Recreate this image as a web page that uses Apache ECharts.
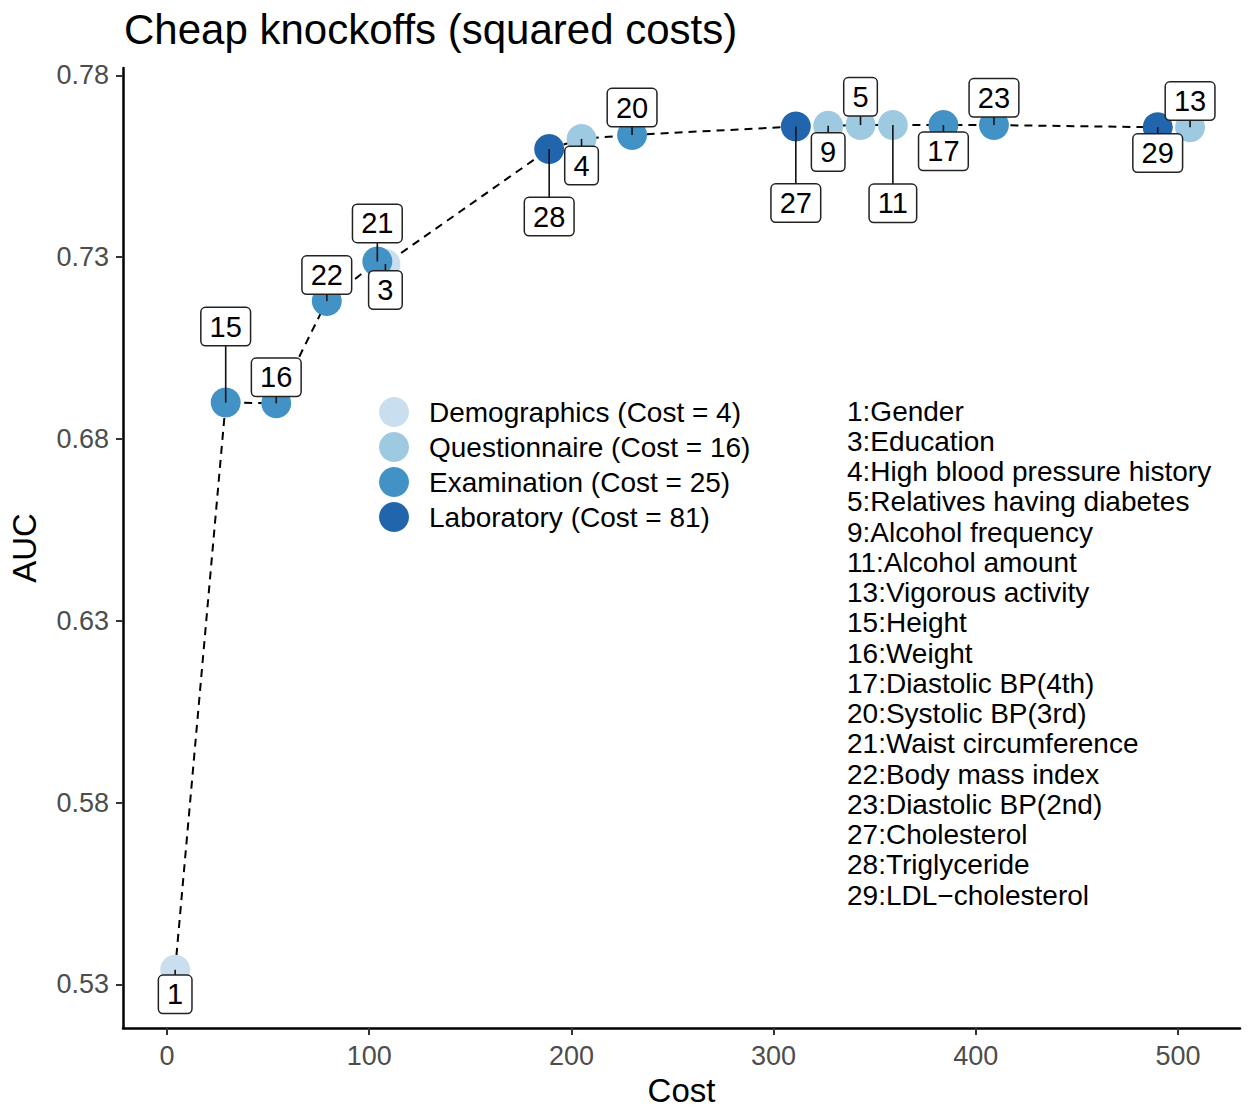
<!DOCTYPE html>
<html>
<head>
<meta charset="utf-8">
<title>Cheap knockoffs (squared costs)</title>
<script src="https://cdn.jsdelivr.net/npm/echarts@6/dist/echarts.min.js"></script>
<style>
  html, body { margin: 0; padding: 0; background: #fff; }
  #chart { width: 1248px; height: 1113px; }
</style>
</head>
<body>
<div id="chart"></div>
<script>
// Features in the order they were added to the model
const featureIds = [1, 15, 16, 22, 21, 3, 28, 4, 20, 27, 9, 5, 11, 17, 23, 29, 13];
const featureNames = ['Gender', 'Height', 'Weight', 'Body mass index', 'Waist circumference',
  'Education', 'Triglyceride', 'High blood pressure history', 'Systolic BP(3rd)', 'Cholesterol',
  'Alcohol frequency', 'Relatives having diabetes', 'Alcohol amount', 'Diastolic BP(4th)',
  'Diastolic BP(2nd)', 'LDL\u2212cholesterol', 'Vigorous activity'];
const featureGroups = ['Demographics', 'Examination', 'Examination', 'Examination', 'Examination',
  'Demographics', 'Laboratory', 'Questionnaire', 'Examination', 'Laboratory',
  'Questionnaire', 'Questionnaire', 'Questionnaire', 'Examination',
  'Examination', 'Laboratory', 'Questionnaire'];
// Cumulative cost after each feature is added
const cumulativeCost = [4, 29, 54, 79, 104, 108, 189, 205, 230, 311, 327, 343, 359, 384, 409, 490, 506];
// AUC after each feature is added
const aucValues = [0.534, 0.690, 0.6898, 0.7179, 0.7288, 0.7281, 0.7597, 0.7625, 0.7636, 0.7659,
  0.7661, 0.7663, 0.7663, 0.7663, 0.7663, 0.7657, 0.7657];

// Feature groups and their per-feature costs
const groupNames = ['Demographics', 'Questionnaire', 'Examination', 'Laboratory'];
const groupCosts = [4, 16, 25, 81];
const groupColors = ['#C9DEEF', '#9ECAE1', '#4292C6', '#2166AC'];

// Axis ticks
const xTicks = [0, 100, 200, 300, 400, 500];
const yTicks = [0.53, 0.58, 0.63, 0.68, 0.73, 0.78];

// Vertical offset (px) of each feature's label box from its point
const labelOffsetY = {1: 24.5, 15: -76, 16: -26, 22: -26, 21: -38, 3: 26, 28: 67.5, 4: 26.7,
  20: -27.3, 27: 76.5, 9: 26.3, 5: -28.3, 11: 78.2, 17: 26.2, 23: -27.3, 29: 25.8, 13: -26.2};

const FONT = '"Liberation Sans", Arial, Helvetica, sans-serif';

const chart = echarts.init(document.getElementById('chart'), null, { renderer: 'svg' });

const pathData = cumulativeCost.map((c, i) => [c, aucValues[i]]);

const groupSeries = groupNames.map((g, gi) => ({
  name: g + ' (Cost = ' + groupCosts[gi] + ')',
  type: 'scatter',
  symbol: 'circle',
  symbolSize: 30,
  itemStyle: { color: groupColors[gi], opacity: 1 },
  z: 3,
  data: cumulativeCost
    .map((c, i) => featureGroups[i] === g ? [c, aucValues[i], featureIds[i]] : null)
    .filter(d => d !== null)
}));

const legendText = featureIds
  .map((id, i) => ({ id, name: featureNames[i] }))
  .sort((a, b) => a.id - b.id)
  .map(d => d.id + ':' + d.name)
  .join('\n');

const option = {
  animation: false,
  backgroundColor: '#fff',
  title: {
    text: 'Cheap knockoffs (squared costs)',
    left: 119,
    top: 3,
    textStyle: { fontFamily: FONT, fontSize: 42, fontWeight: 'normal', color: '#000' }
  },
  grid: { left: 123, right: 8, top: 68, bottom: 85, containLabel: false },
  legend: {
    orient: 'vertical',
    left: 374,
    top: 392,
    itemWidth: 30,
    itemHeight: 30,
    itemGap: 5,
    icon: 'circle',
    data: groupSeries.map(s => s.name),
    textStyle: { fontFamily: FONT, fontSize: 28, color: '#000', padding: [0, 0, 0, 15] }
  },
  xAxis: {
    type: 'value',
    min: -21.8,
    max: 530.7,
    name: 'Cost',
    nameLocation: 'middle',
    nameGap: 46,
    nameTextStyle: { fontFamily: FONT, fontSize: 33, color: '#000' },
    axisLine: { show: true, onZero: false, lineStyle: { color: '#000', width: 2.5 } },
    axisTick: { show: true, length: 7, customValues: xTicks, lineStyle: { color: '#333', width: 2 } },
    axisLabel: { customValues: xTicks, fontFamily: FONT, fontSize: 27, color: '#4D4D4D', margin: 14 },
    splitLine: { show: false }
  },
  yAxis: {
    type: 'value',
    min: 0.518,
    max: 0.782,
    name: 'AUC',
    nameLocation: 'middle',
    nameRotate: 90,
    nameGap: 82,
    nameTextStyle: { fontFamily: FONT, fontSize: 33, color: '#000' },
    axisLine: { show: true, onZero: false, lineStyle: { color: '#000', width: 2.5 } },
    axisTick: { show: true, length: 7, customValues: yTicks, lineStyle: { color: '#333', width: 2 } },
    axisLabel: {
      customValues: yTicks, fontFamily: FONT, fontSize: 27, color: '#4D4D4D', margin: 14,
      formatter: v => v.toFixed(2)
    },
    splitLine: { show: false }
  },
  graphic: [{
    type: 'text',
    left: 847,
    top: 396,
    z: 20,
    style: {
      text: legendText,
      font: '28px ' + FONT,
      lineHeight: 30.25,
      fill: '#000'
    }
  }],
  series: [
    {
      type: 'line',
      data: pathData,
      symbol: 'none',
      z: 2,
      lineStyle: { color: '#000', width: 2, type: [8, 6] },
      silent: true
    },
    ...groupSeries,
    {
      type: 'custom',
      z: 10,
      encode: { x: 0, y: 1 },
      data: cumulativeCost.map((c, i) => [c, aucValues[i], featureIds[i]]),
      renderItem: (params, api) => {
        const p = api.coord([api.value(0), api.value(1)]);
        const id = api.value(2);
        const cy = p[1] + labelOffsetY[id];
        return {
          type: 'group',
          children: [
            {
              type: 'line',
              shape: { x1: p[0], y1: p[1], x2: p[0], y2: cy },
              style: { stroke: '#111', lineWidth: 1.6 }
            },
            {
              type: 'text',
              x: p[0],
              y: cy,
              style: {
                text: String(id),
                font: '29px ' + FONT,
                fill: '#000',
                align: 'center',
                verticalAlign: 'middle',
                textAlign: 'center',
                textVerticalAlign: 'middle',
                backgroundColor: '#fff',
                borderColor: '#222',
                borderWidth: 1.5,
                borderRadius: 4,
                padding: [4, 8, 4, 8]
              }
            }
          ]
        };
      }
    }
  ]
};

chart.setOption(option);
</script>
</body>
</html>
